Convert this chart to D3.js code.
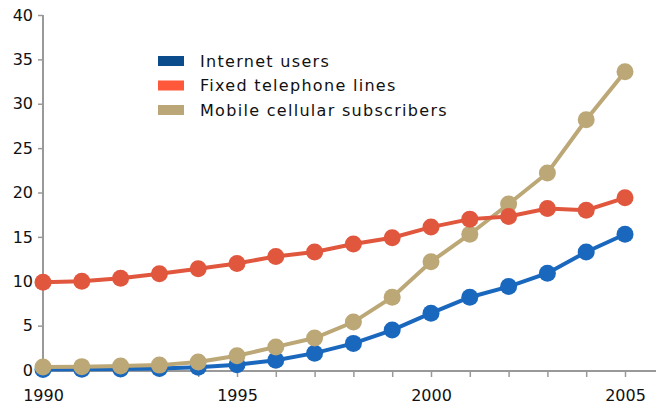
<!DOCTYPE html>
<html>
<head>
<meta charset="utf-8">
<script src="https://cdn.jsdelivr.net/npm/d3@7"></script>
<style>
  html, body { margin: 0; padding: 0; background: #fff; }
  svg { display: block; }
  text { font-family: "DejaVu Sans", Verdana, sans-serif; fill: #111; }
</style>
</head>
<body>
<svg id="chart" width="656" height="407"></svg>
<script>
// Subscribers per 100 inhabitants, 1990–2005
const years = d3.range(1990, 2006);
const internetUsers = [0.05, 0.08, 0.12, 0.18, 0.3, 0.6, 1.1, 1.9, 3.0, 4.5, 6.4, 8.2, 9.4, 10.9, 13.3, 15.3];
const fixedLines    = [9.9, 10.0, 10.35, 10.85, 11.4, 12.0, 12.8, 13.3, 14.2, 14.9, 16.1, 17.0, 17.3, 18.2, 18.0, 19.4];
const mobileSubs    = [0.35, 0.38, 0.45, 0.55, 0.9, 1.6, 2.6, 3.6, 5.4, 8.2, 12.2, 15.3, 18.7, 22.2, 28.2, 33.6];
const yTicks = [0, 5, 10, 15, 20, 25, 30, 35, 40];
const xTickLabels = [1990, 1995, 2000, 2005];

const seriesNames  = ["Internet users", "Fixed telephone lines", "Mobile cellular subscribers"];
const lineColors   = ["#1a68bd", "#e0573e", "#bca777"];
const swatchColors = ["#0b4c8c", "#ff583a", "#baa677"];
const seriesValues = [internetUsers, fixedLines, mobileSubs];

const svg = d3.select("#chart");

const x = d3.scaleLinear().domain([1990, 2005]).range([43, 625]);
const y = d3.scaleLinear().domain([0, 40]).range([370, 15]);

// Axes
const axisColor = "#999";
const xAxis = svg.append("g").attr("transform", "translate(0,371)")
  .call(d3.axisBottom(x).tickValues(years).tickSize(6).tickFormat(d => xTickLabels.includes(d) ? d : ""));
xAxis.select(".domain").remove();
xAxis.append("line").attr("x1", 43).attr("x2", 656).attr("y1", 0).attr("y2", 0)
  .attr("stroke", axisColor).attr("stroke-width", 2);
xAxis.selectAll(".tick line").attr("stroke", axisColor).attr("stroke-width", 1.5);
xAxis.selectAll(".tick text").attr("y", 19).attr("dy", "0.71em")
  .style("font-size", "16px").style("font-family", "DejaVu Sans").attr("fill", "#111");

const yAxis = svg.append("g").attr("transform", "translate(43,0)")
  .call(d3.axisLeft(y).tickValues(yTicks).tickSize(5).tickFormat(d3.format("d")));
yAxis.select(".domain").remove();
yAxis.append("line").attr("x1", 0).attr("x2", 0).attr("y1", 15).attr("y2", 371)
  .attr("stroke", axisColor).attr("stroke-width", 2);
yAxis.selectAll(".tick line").attr("stroke", axisColor).attr("stroke-width", 1.5);
yAxis.selectAll(".tick text").attr("x", -10)
  .style("font-size", "16px").style("font-family", "DejaVu Sans").attr("fill", "#111");

// Lines with circular markers (drawn blue, tan, then red on top)
const drawOrder = [0, 2, 1];
const line = d3.line().x((d, i) => x(years[i])).y(d => y(d));
drawOrder.forEach(s => {
  const g = svg.append("g");
  g.append("path").datum(seriesValues[s]).attr("d", line)
    .attr("fill", "none").attr("stroke", lineColors[s]).attr("stroke-width", 4);
  g.selectAll("circle").data(seriesValues[s]).join("circle")
    .attr("cx", (d, i) => x(years[i])).attr("cy", d => y(d)).attr("r", 8.5)
    .attr("fill", lineColors[s]);
});

// Legend
const legend = svg.append("g").attr("transform", "translate(158,61)");
seriesNames.forEach((name, i) => {
  const row = legend.append("g").attr("transform", `translate(0,${i * 24.5})`);
  row.append("rect").attr("x", 0).attr("y", -5).attr("width", 26).attr("height", 10)
    .attr("fill", swatchColors[i]);
  row.append("text").attr("x", 42).attr("y", 0).attr("dy", "0.36em")
    .style("font-size", "16px").style("letter-spacing", "1.3px").text(name);
});
</script>
</body>
</html>
